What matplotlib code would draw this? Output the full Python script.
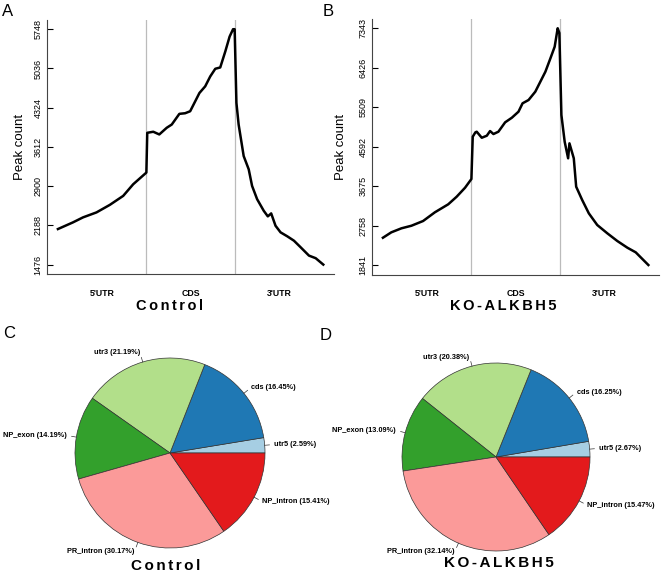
import matplotlib
matplotlib.use('Agg')
import matplotlib.pyplot as plt
import numpy as np

plt.rcParams['font.family'] = ['Liberation Sans', 'DejaVu Sans']

# metagene profile: x 0-1 is 5'UTR, 1-2 CDS, 2-3 3'UTR
ctrl_x = [0.0, 0.17, 0.284, 0.436, 0.587, 0.738, 0.851, 1.0, 1.01, 1.078, 1.146, 1.23, 1.287,
          1.373, 1.438, 1.495, 1.6, 1.665, 1.722, 1.779, 1.835, 1.892, 1.941, 1.98, 1.998,
          2.018, 2.043, 2.1, 2.157, 2.195, 2.252, 2.327, 2.373, 2.411, 2.46, 2.517, 2.593,
          2.668, 2.744, 2.838, 2.914, 3.0]
ctrl_y = [2121, 2242, 2333, 2423, 2560, 2723, 2934, 3146, 3868, 3887, 3838, 3959, 4018,
          4212, 4223, 4259, 4591, 4711, 4891, 5030, 5054, 5343, 5614, 5748, 5748,
          4411, 4018, 3446, 3205, 2904, 2663, 2452, 2351, 2405, 2181, 2061, 1989,
          1910, 1790, 1639, 1592, 1476]
ko_x = [0.0, 0.095, 0.209, 0.322, 0.454, 0.587, 0.738, 0.833, 0.928, 1.0, 1.015, 1.045,
        1.06, 1.117, 1.174, 1.211, 1.249, 1.305, 1.381, 1.457, 1.532, 1.578, 1.646, 1.722,
        1.779, 1.836, 1.893, 1.941, 1.975, 1.994, 2.017, 2.054, 2.093, 2.108, 2.157, 2.184,
        2.252, 2.327, 2.422, 2.536, 2.649, 2.763, 2.857, 3.0]
ko_y = [2475, 2601, 2694, 2754, 2864, 3066, 3252, 3428, 3637, 3840, 4823, 4925,
        4939, 4799, 4846, 4955, 4885, 4939, 5157, 5264, 5404, 5599, 5676, 5869,
        6101, 6333, 6645, 6914, 7343, 7233, 5327, 4707, 4321, 4669, 4321, 3661,
        3352, 3042, 2771, 2578, 2399, 2243, 2136, 1841]
ctrl_ticks = [1476, 2188, 2900, 3612, 4324, 5036, 5748]
ko_ticks = [1841, 2758, 3675, 4592, 5509, 6426, 7343]
regions = ["5'UTR", 'CDS', "3'UTR"]

pie_names = ['utr5', 'cds', 'utr3', 'NP_exon', 'PR_intron', 'NP_intron']
ctrl_pct = [2.59, 16.45, 21.19, 14.19, 30.17, 15.41]
ko_pct = [2.67, 16.25, 20.38, 13.09, 32.14, 15.47]
pie_colors = ['#A6CEE3', '#1F78B4', '#B2DF8A', '#33A02C', '#FB9A99', '#E31A1C']

W, H = 661, 575
fig = plt.figure(figsize=(W / 100, H / 100), dpi=100)


def box(l, t, r, b):
    return [l / W, 1 - b / H, (r - l) / W, (b - t) / H]


def spaced(s):
    return '\u200a\u200a'.join(s)


def profile(ax, xs, ys, ticks):
    ax.plot(xs, ys, color='black', lw=1.8, solid_joinstyle='round')
    ax.axvline(1, color='#BBBBBB', lw=0.9, zorder=0)
    ax.axvline(2, color='#BBBBBB', lw=0.9, zorder=0)
    ax.set_xlim(-0.12, 3.12)
    rng = ticks[-1] - ticks[0]
    ax.set_ylim(ticks[0] - 0.04 * rng, ticks[-1] + 0.04 * rng)
    ax.set_yticks(ticks)
    ax.set_yticklabels([str(t) for t in ticks], rotation=90, va='center')
    ax.tick_params(axis='y', direction='in', length=4.3, width=0.8, labelsize=6.5, pad=3.5)
    ax.set_xticks([0.5, 1.5, 2.5])
    ax.set_xticklabels(regions, fontweight='bold')
    ax.tick_params(axis='x', length=0, labelsize=6.3, pad=10.5)
    for s in ['top', 'right']:
        ax.spines[s].set_visible(False)
    for s in ['left', 'bottom']:
        ax.spines[s].set_color('#444444')
        ax.spines[s].set_linewidth(0.8)


axA = fig.add_axes(box(47.3, 19.8, 333.9, 274))
profile(axA, ctrl_x, ctrl_y, ctrl_ticks)
axB = fig.add_axes(box(372.3, 18.8, 659, 274.5))
profile(axB, ko_x, ko_y, ko_ticks)

fig.text(20 / W, 1 - 147 / H, 'Peak count', rotation=90, ha='center', va='center', fontsize=9.5)
fig.text(341 / W, 1 - 147 / H, 'Peak count', rotation=90, ha='center', va='center', fontsize=9.5)
fig.text(170 / W, 1 - 306 / H, spaced('Control'), ha='center', va='center', fontsize=10.5, fontweight='bold')
fig.text(503 / W, 1 - 306 / H, spaced('KO-ALKBH5'), ha='center', va='center', fontsize=10.5, fontweight='bold')


def pie(ax, pct):
    wedges, _ = ax.pie(pct, colors=pie_colors, startangle=0, counterclock=True,
                       wedgeprops=dict(edgecolor='#333333', linewidth=0.5))
    for w, name, p in zip(wedges, pie_names, pct):
        a = np.deg2rad((w.theta1 + w.theta2) / 2)
        c, s = np.cos(a), np.sin(a)
        ax.plot([c, 1.05 * c], [s, 1.05 * s], color='#333333', lw=0.5)
        ax.text(1.1 * c, 1.1 * s, f'{name} ({p:.2f}%)', ha='left' if c > 0 else 'right',
                va='center', fontsize=5.3, fontweight='bold')
    ax.set_xlim(-1.5, 1.5)
    ax.set_ylim(-1.5, 1.5)
    ax.set_aspect('equal')
    ax.axis('off')


rC = 95
axC = fig.add_axes(box(170 - 1.5 * rC, 453 - 1.5 * rC, 170 + 1.5 * rC, 453 + 1.5 * rC))
pie(axC, ctrl_pct)
rD = 94
axD = fig.add_axes(box(496 - 1.5 * rD, 457 - 1.5 * rD, 496 + 1.5 * rD, 457 + 1.5 * rD))
pie(axD, ko_pct)

fig.text(166 / W, 1 - 566 / H, spaced('Control'), ha='center', va='center', fontsize=11, fontweight='bold')
fig.text(499 / W, 1 - 563 / H, spaced('KO-ALKBH5'), ha='center', va='center', fontsize=11, fontweight='bold')

for lab, x, y in [('A', 2, 4), ('B', 323, 4), ('C', 3, 326), ('D', 320, 328)]:
    fig.text(x / W, 1 - y / H, lab, ha='left', va='top', fontsize=12)

fig.savefig('out.png', dpi=100)
